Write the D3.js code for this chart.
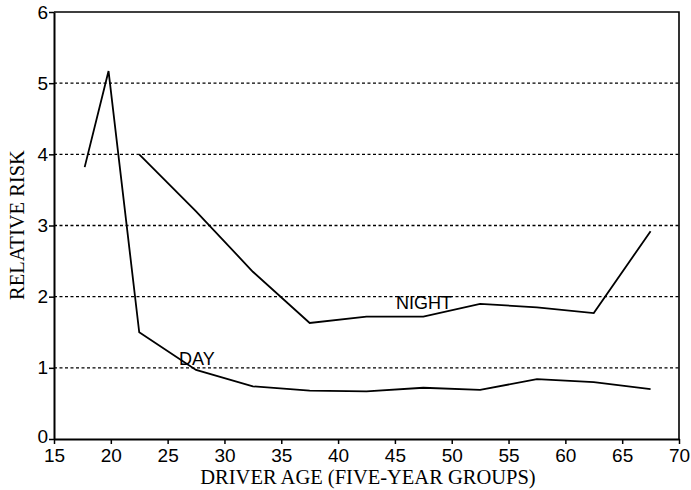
<!DOCTYPE html>
<html>
<head>
<meta charset="utf-8">
<script src="https://cdn.jsdelivr.net/npm/d3@7"></script>
<style>
  body { margin: 0; background: #fff; }
  svg { display: block; }
</style>
</head>
<body>
<script>
// values
const dayAges = [17.7, 19.8, 22.5, 27.5, 32.5, 37.5, 42.5, 47.5, 52.5, 57.5, 62.5, 67.5];
const dayRisk = [3.82, 5.17, 1.5, 0.97, 0.74, 0.68, 0.67, 0.72, 0.69, 0.84, 0.80, 0.70];
const nightAges = [22.5, 27.5, 32.5, 37.5, 42.5, 47.5, 52.5, 57.5, 62.5, 67.5];
const nightRisk = [4.0, 3.2, 2.35, 1.63, 1.72, 1.72, 1.9, 1.85, 1.77, 2.92];
const xTicks = [15, 20, 25, 30, 35, 40, 45, 50, 55, 60, 65, 70];
const yTicks = [0, 1, 2, 3, 4, 5, 6];

const width = 691, height = 490;
const plotL = 54, plotR = 679, plotT = 12, plotB = 439;

const x = d3.scaleLinear().domain([15, 70]).range([plotL, plotR]);
const y = d3.scaleLinear().domain([0, 6]).range([plotB, plotT]);

const svg = d3.select("body").append("svg").attr("width", width).attr("height", height);

// dotted grid
svg.append("g").selectAll("line")
    .data(yTicks.filter(d => d > 0 && d < 6))
    .enter().append("line")
    .attr("x1", plotL).attr("x2", plotR)
    .attr("y1", d => y(d)).attr("y2", d => y(d))
    .attr("stroke", "#000").attr("stroke-width", 1.4)
    .attr("stroke-dasharray", "3,2.5");

// frame top + right
svg.append("path")
    .attr("d", `M${plotL},${plotT}H${plotR}V${plotB}`)
    .attr("fill", "none").attr("stroke", "#000").attr("stroke-width", 1.6);

const xAxis = svg.append("g").attr("transform", `translate(0,${plotB})`)
    .call(d3.axisBottom(x).tickValues(xTicks).tickFormat(d3.format("d"))
        .tickSize(5).tickPadding(5).tickSizeOuter(0));
const yAxis = svg.append("g").attr("transform", `translate(${plotL},0)`)
    .call(d3.axisLeft(y).tickValues(yTicks).tickFormat(d3.format("d"))
        .tickSize(5).tickPadding(1).tickSizeOuter(0));

[xAxis, yAxis].forEach(a => {
    a.select(".domain").attr("stroke-width", 2);
    a.selectAll(".tick line").attr("stroke-width", 1.5);
    a.selectAll("text")
        .style("font-family", "'Liberation Sans', Arial, sans-serif")
        .style("font-size", "19px").attr("fill", "#000");
});
// nudge the 0 up a touch so it clears the 15 below it
yAxis.selectAll(".tick text").filter(d => d === 0).attr("dy", "0.2em");

const line = d3.line().x(d => x(d[0])).y(d => y(d[1]));

svg.append("path")
    .datum(dayAges.map((a, i) => [a, dayRisk[i]]))
    .attr("d", line).attr("fill", "none").attr("stroke", "#000").attr("stroke-width", 1.8);
svg.append("path")
    .datum(nightAges.map((a, i) => [a, nightRisk[i]]))
    .attr("d", line).attr("fill", "none").attr("stroke", "#000").attr("stroke-width", 1.8);

// series labels
const sans = "'Liberation Sans', Arial, sans-serif";
svg.append("text").attr("x", x(26.0)).attr("y", y(1.04))
    .style("font-family", sans).style("font-size", "18px").text("DAY");
svg.append("text").attr("x", x(45.1)).attr("y", y(1.83))
    .style("font-family", sans).style("font-size", "18px").text("NIGHT");

// axis titles
const serif = "'Liberation Serif', 'Times New Roman', serif";
svg.append("text")
    .attr("x", 368).attr("y", 484)
    .attr("text-anchor", "middle")
    .style("font-family", serif).style("font-size", "20.5px")
    .text("DRIVER AGE (FIVE-YEAR GROUPS)");
svg.append("text")
    .attr("transform", "translate(24,225) rotate(-90)")
    .attr("text-anchor", "middle")
    .style("font-family", serif).style("font-size", "20.5px")
    .text("RELATIVE RISK");
</script>
</body>
</html>
